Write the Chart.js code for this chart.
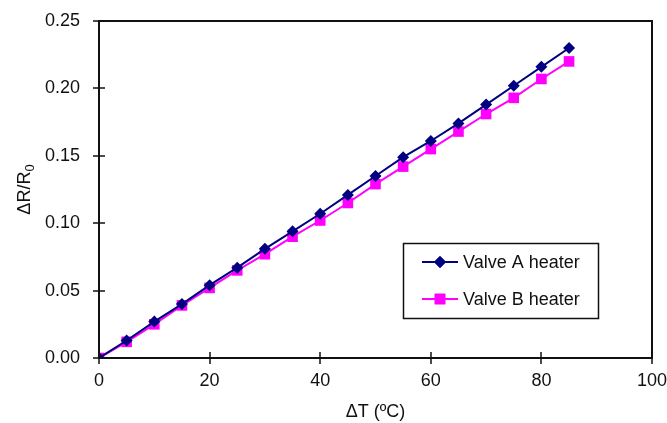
<!DOCTYPE html>
<html>
<head>
<meta charset="utf-8">
<script src="https://cdn.jsdelivr.net/npm/chart.js@4"></script>
<style>
  html, body { margin: 0; padding: 0; background: #fff; }
  #wrap { width: 667px; height: 423px; position: relative; }
</style>
</head>
<body>
<div id="wrap"><canvas id="chart"></canvas></div>
<script>
// ---- data ----
const deltaT = [0, 5, 10, 15, 20, 25, 30, 35, 40, 45, 50, 55, 60, 65, 70, 75, 80, 85];
const valveA = [0, 0.013, 0.027, 0.040, 0.054, 0.067, 0.081, 0.094, 0.107, 0.121, 0.135, 0.149, 0.161, 0.174, 0.188, 0.202, 0.216, 0.230];
const valveB = [0, 0.012, 0.025, 0.039, 0.052, 0.065, 0.077, 0.090, 0.102, 0.115, 0.129, 0.142, 0.155, 0.168, 0.181, 0.193, 0.207, 0.220];
const xTicks = [0, 20, 40, 60, 80, 100];
const yTicks = [0, 0.05, 0.10, 0.15, 0.20, 0.25];
const seriesLabels = ['Valve A heater', 'Valve B heater'];

const FONT = '"Liberation Sans", Arial, sans-serif';
const FS = 18;

// frame, crossing tick marks, axis titles and boxed legend
const decor = {
  id: 'decor',
  afterDraw(chart) {
    const { ctx, chartArea: a, scales: { x, y } } = chart;
    ctx.save();
    ctx.strokeStyle = '#111';
    ctx.lineWidth = 2;
    ctx.strokeRect(a.left, a.top, a.right - a.left, a.bottom - a.top);
    ctx.lineWidth = 1.5;
    ctx.beginPath();
    for (const v of yTicks) {
      const py = Math.round(y.getPixelForValue(v));
      ctx.moveTo(a.left - 6, py); ctx.lineTo(a.left + 6, py);
    }
    for (const v of xTicks) {
      const px = Math.round(x.getPixelForValue(v));
      ctx.moveTo(px, a.bottom - 6); ctx.lineTo(px, a.bottom + 6);
    }
    ctx.stroke();

    // axis titles
    ctx.fillStyle = '#111';
    ctx.textBaseline = 'middle';
    ctx.font = `${FS}px ${FONT}`;
    ctx.textAlign = 'center';
    ctx.fillText('\u0394T (\u00baC)', (a.left + a.right) / 2, 412);

    ctx.translate(25, (a.top + a.bottom) / 2);
    ctx.rotate(-Math.PI / 2);
    const main = '\u0394R/R', sub = '0';
    ctx.font = `${FS}px ${FONT}`;
    const wMain = ctx.measureText(main).width;
    ctx.font = `${FS - 5}px ${FONT}`;
    const wSub = ctx.measureText(sub).width;
    const x0 = -(wMain + wSub) / 2;
    ctx.textAlign = 'left';
    ctx.font = `${FS}px ${FONT}`;
    ctx.fillText(main, x0, 0);
    ctx.font = `${FS - 5}px ${FONT}`;
    ctx.fillText(sub, x0 + wMain, 5);
    ctx.restore();

    // legend
    ctx.save();
    ctx.strokeStyle = '#111';
    ctx.lineWidth = 1.5;
    ctx.strokeRect(403.5, 243.5, 195, 75);
    ctx.font = `${FS}px ${FONT}`;
    ctx.textBaseline = 'middle';
    ctx.textAlign = 'left';
    chart.data.datasets.forEach((ds, i) => {
      const ly = 262 + i * 37;
      ctx.strokeStyle = ds.borderColor;
      ctx.lineWidth = ds.borderWidth;
      ctx.beginPath(); ctx.moveTo(422, ly); ctx.lineTo(458, ly); ctx.stroke();
      ctx.fillStyle = ds.backgroundColor;
      Chart.helpers.drawPoint(ctx, { pointStyle: ds.pointStyle, radius: ds.pointRadius, rotation: 0, borderWidth: 0 }, 440, ly);
      ctx.fill();
      ctx.fillStyle = '#111';
      ctx.fillText(ds.label, 463, ly + 1);
    });
    ctx.restore();
  }
};

new Chart(document.getElementById('chart'), {
  type: 'line',
  data: {
    datasets: [
      { label: seriesLabels[0], data: deltaT.map((t, i) => ({ x: t, y: valveA[i] })),
        borderColor: '#000080', backgroundColor: '#000080', borderWidth: 2,
        pointStyle: 'rectRot', pointRadius: 6, pointBorderWidth: 0, pointHoverRadius: 6 },
      { label: seriesLabels[1], data: deltaT.map((t, i) => ({ x: t, y: valveB[i] })),
        borderColor: '#FF00FF', backgroundColor: '#FF00FF', borderWidth: 2,
        pointStyle: 'rect', pointRadius: 7.5, pointBorderWidth: 0, pointHoverRadius: 7.5 },
    ],
  },
  options: {
    responsive: true,
    maintainAspectRatio: false,
    animation: false,
    layout: { padding: { top: 21, right: 15, left: 0, bottom: 0 } },
    plugins: { legend: { display: false }, tooltip: { enabled: false } },
    scales: {
      x: {
        type: 'linear', min: 0, max: 100,
        afterBuildTicks: s => { s.ticks = xTicks.map(v => ({ value: v })); },
        afterFit: s => { s.height = 65; s.paddingLeft = 0; s.paddingRight = 0; },
        grid: { display: false }, border: { display: false },
        ticks: { color: '#111', padding: 4, font: { family: FONT, size: FS }, maxRotation: 0 },
      },
      y: {
        type: 'linear', min: 0, max: 0.25,
        afterBuildTicks: s => { s.ticks = yTicks.map(v => ({ value: v })); },
        afterFit: s => { s.width = 99; s.paddingTop = 0; s.paddingBottom = 0; },
        grid: { display: false }, border: { display: false },
        ticks: { color: '#111', padding: 11, font: { family: FONT, size: FS }, callback: v => v.toFixed(2) },
      },
    },
  },
  plugins: [decor],
});
</script>
</body>
</html>
